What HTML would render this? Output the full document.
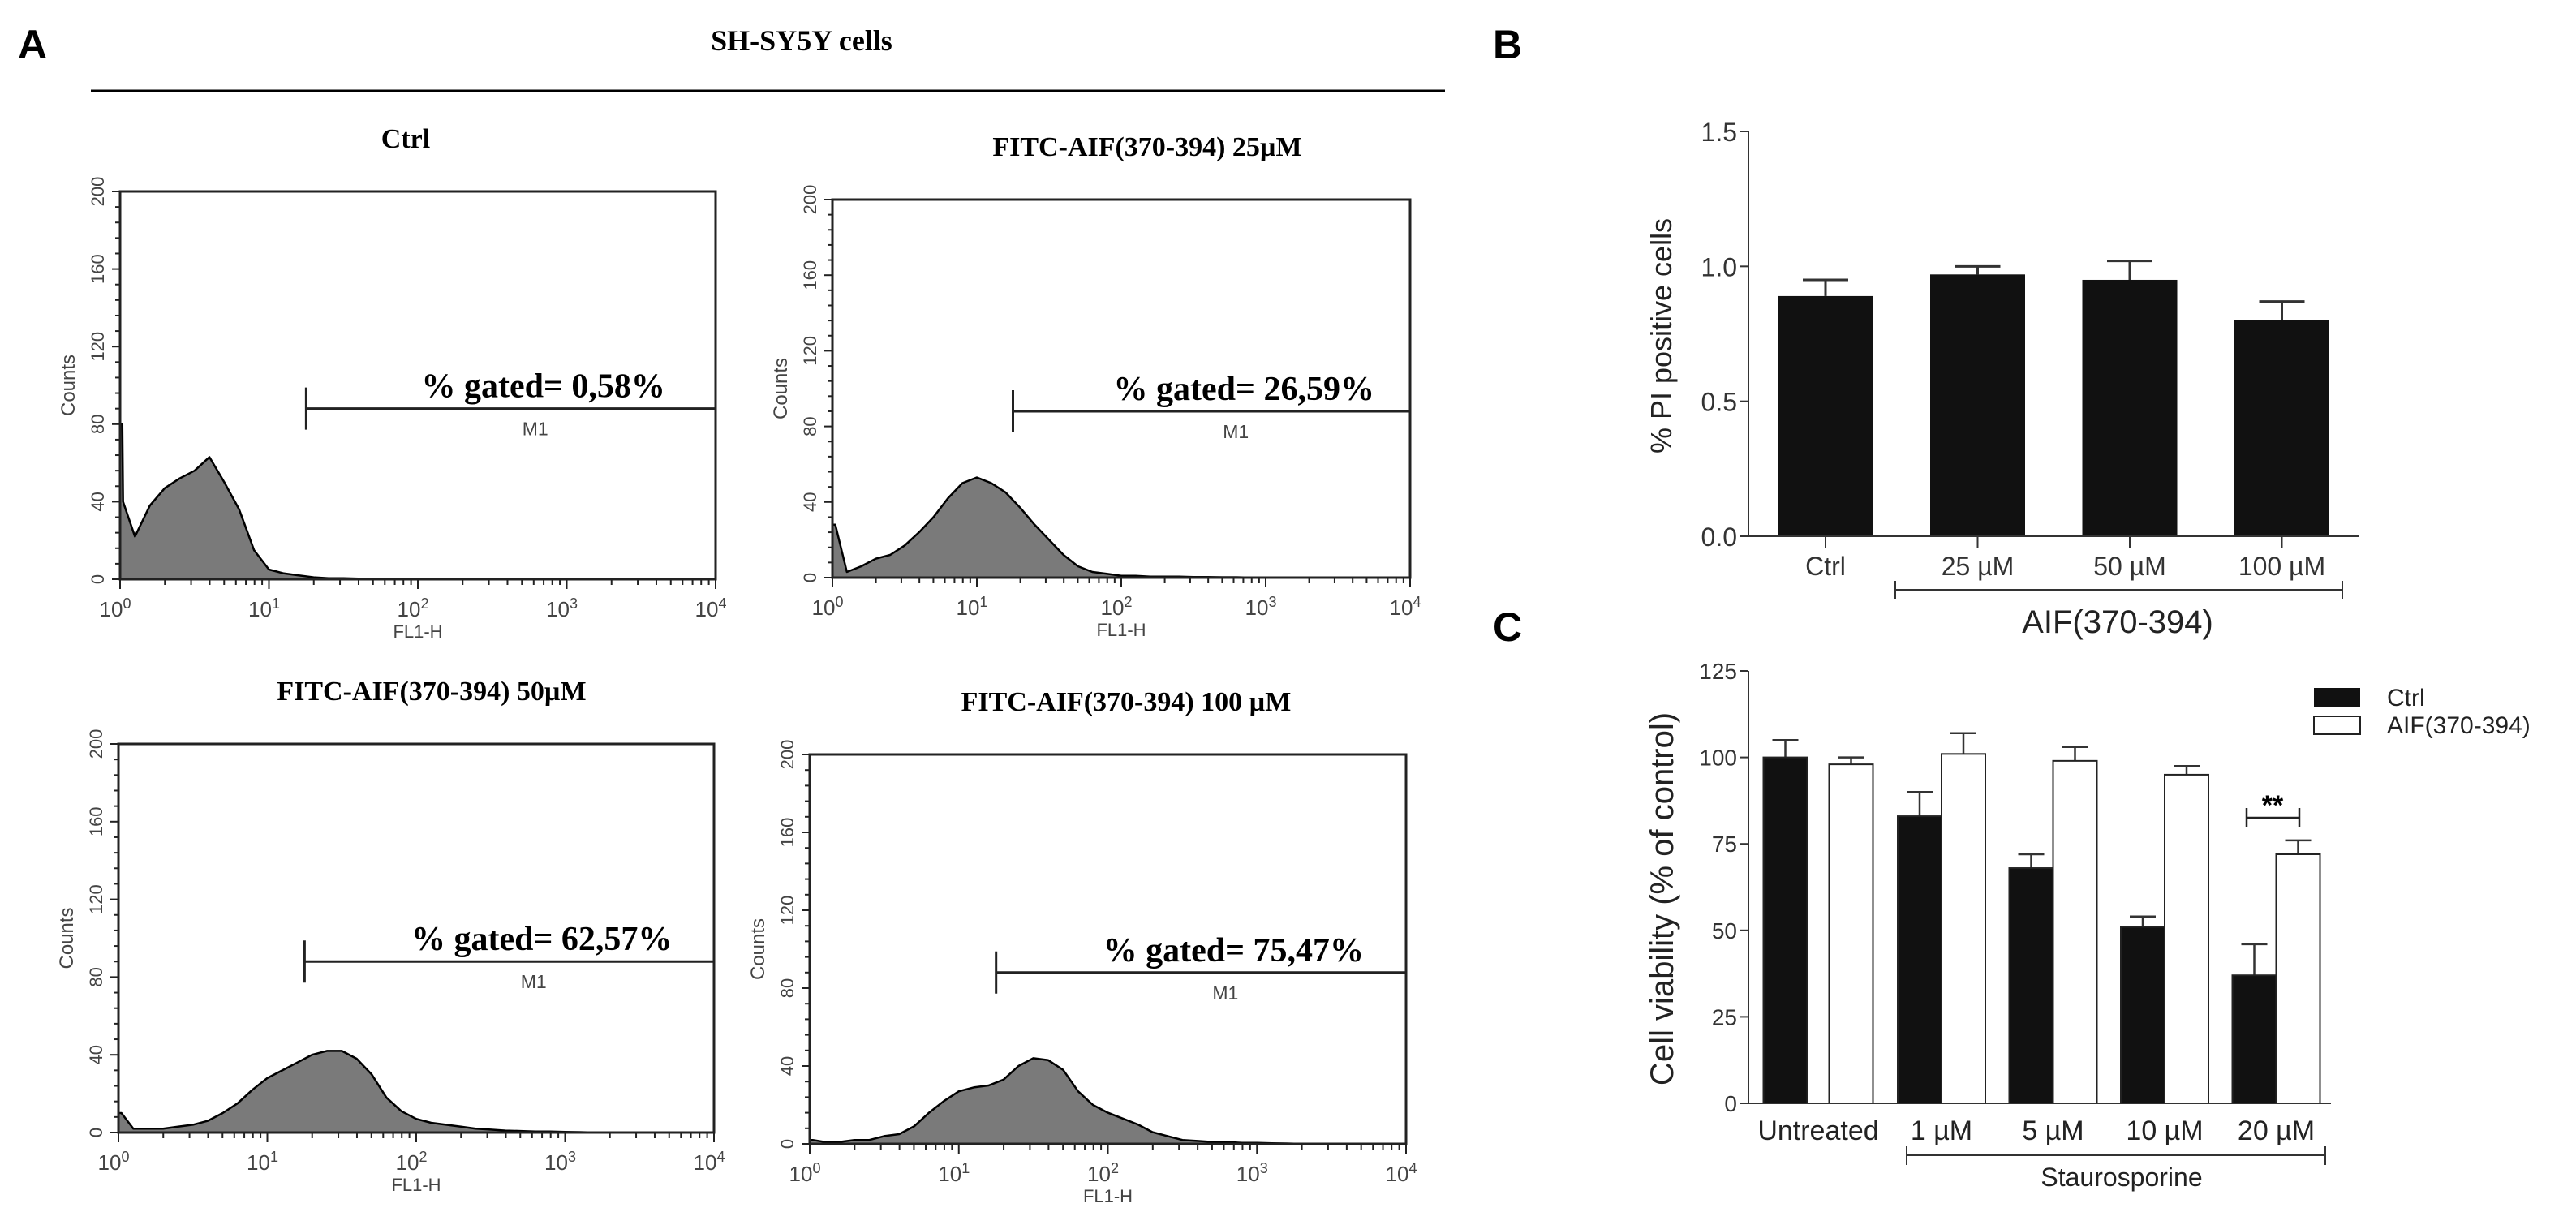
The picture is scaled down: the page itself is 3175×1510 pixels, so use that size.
<!DOCTYPE html>
<html><head><meta charset="utf-8"><style>
html,body{margin:0;padding:0;background:#fff;}
svg{display:block;}
text{font-family:"Liberation Sans",sans-serif;}
.serif{font-family:"Liberation Serif",serif;font-weight:bold;}
</style></head><body>
<svg id="fig" width="3175" height="1510" viewBox="0 0 3175 1510" xmlns="http://www.w3.org/2000/svg">
<rect width="3175" height="1510" fill="#fff"/>
<text x="22" y="72" font-size="50" font-weight="bold">A</text>
<text x="1840" y="72" font-size="50" font-weight="bold">B</text>
<text x="1840" y="790" font-size="50" font-weight="bold">C</text>
<text class="serif" x="988" y="62" font-size="36" text-anchor="middle">SH-SY5Y cells</text>
<line x1="112" y1="112" x2="1781" y2="112" stroke="#000" stroke-width="3"/>
<g id="panelA"></g>
<g id="panelB"></g>
<g id="panelC"></g>
</svg>
<script>
// ---------- Panel A data (counts at log10 FL1-H = 0,0.1,...,4.0) ----------
const histTitles = ["Ctrl","FITC-AIF(370-394) 25\u00b5M","FITC-AIF(370-394) 50\u00b5M","FITC-AIF(370-394) 100 \u00b5M"];
const gatedLabels = ["% gated= 0,58%","% gated= 26,59%","% gated= 62,57%","% gated= 75,47%"];
const histCtrl = [40,22,38,47,52,56,63,50,36,15,5,3,2,1,0.5,0.5,0.3,0.2,0,0,0,0,0,0,0,0,0,0,0,0,0,0,0,0,0,0,0,0,0,0,0];
const hist25 = [28,3,6,10,12,17,24,32,42,50,53,50,45,37,28,20,12,6,3,2,1,1,0.5,0.5,0.5,0.3,0.3,0.2,0.2,0,0,0,0,0,0,0,0,0,0,0,0];
const hist50 = [10,2,2,2,3,4,6,10,15,22,28,32,36,40,42,42,38,30,18,11,7,5,4,3,2,1.5,1,0.8,0.5,0.5,0.3,0.2,0,0,0,0,0,0,0,0,0];
const hist100 = [2,1,1,2,2,4,5,9,16,22,27,29,30,33,40,44,43,38,27,20,16,13,10,6,4,2,1.5,1,1,0.5,0.5,0.3,0.2,0,0,0,0,0,0,0,0];
const spikeCounts = [80,28,10,2];
const gateLog = [1.25,1.25,1.25,1.25];
const gateCount = [88,88,88,88];
const yTicksA = [0,40,80,120,160,200];
const xDecades = [0,1,2,3,4];

// ---------- Panel B data ----------
const catsB = ["Ctrl","25 \u00b5M","50 \u00b5M","100 \u00b5M"];
const valsB = [0.89,0.97,0.95,0.80];
const errB = [0.06,0.03,0.07,0.07];
const ticksB = [0,0.5,1.0,1.5];
const tickLabelsB = ["0.0","0.5","1.0","1.5"];

// ---------- Panel C data ----------
const catsC = ["Untreated","1 \u00b5M","5 \u00b5M","10 \u00b5M","20 \u00b5M"];
const ctrlC = [100,83,68,51,37];
const ctrlErrC = [5,7,4,3,9];
const aifC = [98,101,99,95,72];
const aifErrC = [2,6,4,2.5,4];
const ticksC = [0,25,50,75,100,125];

const NS = "http://www.w3.org/2000/svg";
function mk(parent, tag, attrs, txt){
  const e = document.createElementNS(NS, tag);
  for (const k in attrs) e.setAttribute(k, attrs[k]);
  if (txt !== undefined) e.textContent = txt;
  parent.appendChild(e);
  return e;
}

// ---------- Panel A ----------
const A = document.getElementById('panelA');
const boxes = [
  {x0:148,x1:882,y0:236,y1:714,tx:500},
  {x0:1026,x1:1738,y0:246,y1:712,tx:1414},
  {x0:146,x1:880,y0:917,y1:1396,tx:532},
  {x0:998,x1:1733,y0:930,y1:1410,tx:1388}
];
const hists = [histCtrl,hist25,hist50,hist100];
boxes.forEach((b,i)=>{
  const g = mk(A,'g',{});
  
  
  const sx = v => b.x0 + (b.x1-b.x0)*v/4;
  const sy = c => b.y1 - (b.y1-b.y0)*c/200;
  const t = mk(g,'text',{x:b.tx,y:b.y0-54,'font-size':34,'text-anchor':'middle',class:'serif'},histTitles[i]);
  
  
  // histogram fill
  const h = hists[i];
  let d = 'M'+sx(0)+','+sy(0)+' L'+sx(0)+','+sy(spikeCounts[i])+' L'+sx(0.015)+','+sy(spikeCounts[i])+' L'+sx(0.02)+','+sy(h[0]);
  for (let k=1;k<h.length;k++){ d += ' L'+sx(k*0.1).toFixed(1)+','+sy(h[k]).toFixed(1); }
  d += ' L'+sx(4)+','+sy(0)+' Z';
  const p = mk(g,'path',{d:d,fill:'#7a7a7a',stroke:'#000','stroke-width':2.5,'stroke-linejoin':'round'});
  
  
  // box
  const r = mk(g,'rect',{x:b.x0,y:b.y0,width:b.x1-b.x0,height:b.y1-b.y0,fill:'none',stroke:'#222','stroke-width':3});
  
  
  // y ticks
  for (let c=0;c<=200;c+=8){
    const major = c%40===0;
    mk(g,'line',{x1:b.x0-(major?10:6),x2:b.x0,y1:sy(c),y2:sy(c),stroke:'#222','stroke-width':2});
  }
  yTicksA.forEach(c=>{
    const tl = mk(g,'text',{x:0,y:0,'font-size':22,fill:'#444','text-anchor':'middle',transform:'translate('+(b.x0-20)+','+sy(c)+') rotate(-90)'},String(c));
    
    
  });
  const yt = mk(g,'text',{x:0,y:0,'font-size':24,fill:'#444','text-anchor':'middle',transform:'translate('+(b.x0-56)+','+(sy(100))+') rotate(-90)'},'Counts');
  
  
  // x ticks
  for (let dcd=0; dcd<4; dcd++){
    for (let m=1;m<10;m++){
      const v = dcd+Math.log10(m);
      mk(g,'line',{x1:sx(v),x2:sx(v),y1:b.y1,y2:b.y1+(m===1?12:7),stroke:'#222','stroke-width':2});
    }
  }
  mk(g,'line',{x1:sx(4),x2:sx(4),y1:b.y1,y2:b.y1+12,stroke:'#222','stroke-width':2});
  xDecades.forEach(dc=>{
    const tl = mk(g,'text',{x:sx(dc)-6,y:b.y1+46,'font-size':26,fill:'#444','text-anchor':'middle'},'10');
    mk(tl,'tspan',{dy:-10,'font-size':18},String(dc));
    
    
  });
  const xt = mk(g,'text',{x:sx(2),y:b.y1+72,'font-size':22,fill:'#444','text-anchor':'middle'},'FL1-H');
  
  
  // gate
  const gx = sx(gateLog[i]), gy = sy(gateCount[i]);
  const gl = mk(g,'path',{d:'M'+gx+','+(gy-26)+' V'+(gy+26)+' M'+gx+','+gy+' H'+b.x1,stroke:'#222','stroke-width':3,fill:'none'});
  
  
  const gt = mk(g,'text',{x:(gx+b.x1)/2+40,y:gy-14,'font-size':42,'text-anchor':'middle',class:'serif'},gatedLabels[i]);
  
  
  const m1 = mk(g,'text',{x:(gx+b.x1)/2+30,y:gy+33,'font-size':23,fill:'#444','text-anchor':'middle'},'M1');
  
  
});

// ---------- Panel B ----------
const B = document.getElementById('panelB');
const bX0 = 2155, bX1 = 2907, bY0 = 661, bYtop = 162;
const yB = v => bY0 - (bY0-bYtop)*v/1.5;
const bCenters = i => 2250 + i*187.5;
const bW = 117;
valsB.forEach((v,i)=>{
  const cx = bCenters(i);
  const e = mk(B,'path',{d:'M'+cx+','+yB(v)+' V'+yB(v+errB[i])+' M'+(cx-28)+','+yB(v+errB[i])+' H'+(cx+28),stroke:'#333','stroke-width':3,fill:'none'});
  
  
  const r = mk(B,'rect',{x:cx-bW/2,y:yB(v),width:bW,height:bY0-yB(v),fill:'#111'});
  
  
  mk(B,'line',{x1:cx,x2:cx,y1:bY0,y2:bY0+14,stroke:'#333','stroke-width':2});
  const tl = mk(B,'text',{x:cx,y:bY0+48,'font-size':32,fill:'#333','text-anchor':'middle'},catsB[i]);
  
  
});
mk(B,'line',{x1:bX0,x2:bX0,y1:bYtop,y2:bY0,stroke:'#333','stroke-width':2});
mk(B,'line',{x1:bX0,x2:bX1,y1:bY0,y2:bY0,stroke:'#333','stroke-width':2});
ticksB.forEach((t,i)=>{
  mk(B,'line',{x1:bX0-10,x2:bX0,y1:yB(t),y2:yB(t),stroke:'#333','stroke-width':2});
  const tl = mk(B,'text',{x:bX0-14,y:yB(t)+12,'font-size':32,fill:'#333','text-anchor':'end'},tickLabelsB[i]);
  
  
});
const bt = mk(B,'text',{x:0,y:0,'font-size':36,fill:'#222','text-anchor':'middle',transform:'translate(2060,414) rotate(-90)'},'% PI positive cells');


const bb = mk(B,'path',{d:'M2336,716 V738 M2336,727 H2887 M2887,716 V738',stroke:'#333','stroke-width':2,fill:'none'});


const bg = mk(B,'text',{x:2610,y:780,'font-size':40,fill:'#222','text-anchor':'middle'},'AIF(370-394)');



// ---------- Panel C ----------
const C = document.getElementById('panelC');
const cX0 = 2155, cX1 = 2873, cY0 = 1360, cYtop = 827;
const yC = v => cY0 - (cY0-cYtop)*v/125;
const cGroup = i => i===0 ? 2241 : 2393 + (i-1)*137.5;
const cW = 54;
function barC(x, v, err, fill, name){
  const cx = x + cW/2;
  const e = mk(C,'path',{d:'M'+cx+','+yC(v)+' V'+yC(v+err)+' M'+(cx-16)+','+yC(v+err)+' H'+(cx+16),stroke:'#333','stroke-width':2.5,fill:'none'});
  
  
  const r = mk(C,'rect',{x:x,y:yC(v),width:cW,height:cY0-yC(v),fill:fill,stroke:'#222','stroke-width':2});
  
  
}
catsC.forEach((c,i)=>{
  const gx = cGroup(i);
  const gap = i===0 ? 27 : 0;
  barC(gx - cW - gap/2, ctrlC[i], ctrlErrC[i], '#111', 'bar-ctrl-'+i);
  barC(gx + gap/2, aifC[i], aifErrC[i], '#fff', 'bar-aif-'+i);
  const tl = mk(C,'text',{x:gx,y:1405,'font-size':34,fill:'#222','text-anchor':'middle',style:'font-family:"Liberation Sans Narrow","Liberation Sans",sans-serif'},c);
  
  
});
mk(C,'line',{x1:cX0,x2:cX0,y1:cYtop,y2:cY0,stroke:'#333','stroke-width':2});
mk(C,'line',{x1:cX0,x2:cX1,y1:cY0,y2:cY0,stroke:'#333','stroke-width':2});
ticksC.forEach(t=>{
  mk(C,'line',{x1:cX0-10,x2:cX0,y1:yC(t),y2:yC(t),stroke:'#333','stroke-width':2});
  const tl = mk(C,'text',{x:cX0-14,y:yC(t)+10,'font-size':28,fill:'#333','text-anchor':'end',style:'font-family:"Liberation Sans Narrow","Liberation Sans",sans-serif'},String(t));
  
  
});
const ct = mk(C,'text',{x:0,y:0,'font-size':40,fill:'#222','text-anchor':'middle',transform:'translate(2062,1108) rotate(-90)'},'Cell viability (% of control)');


const cb = mk(C,'path',{d:'M2350,1413 V1436 M2350,1424 H2866 M2866,1413 V1436',stroke:'#333','stroke-width':2,fill:'none'});


const cg = mk(C,'text',{x:2615,y:1462,'font-size':32,fill:'#222','text-anchor':'middle',style:'font-family:"Liberation Sans Narrow","Liberation Sans",sans-serif'},'Staurosporine');


const sb = mk(C,'path',{d:'M2769,996 V1020 M2769,1008 H2834 M2834,996 V1020',stroke:'#222','stroke-width':2.5,fill:'none'});


const st = mk(C,'text',{x:2801,y:1004,'font-size':34,'font-weight':'bold','text-anchor':'middle'},'**');


// legend
const l1 = mk(C,'rect',{x:2852,y:848,width:57,height:23,fill:'#111'});


const l2 = mk(C,'rect',{x:2852,y:883,width:57,height:22,fill:'#fff',stroke:'#222','stroke-width':2});


const lt1 = mk(C,'text',{x:2942,y:870,'font-size':30,fill:'#222'},'Ctrl');


const lt2 = mk(C,'text',{x:2942,y:904,'font-size':30,fill:'#222'},'AIF(370-394)');


</script>
</body></html>
